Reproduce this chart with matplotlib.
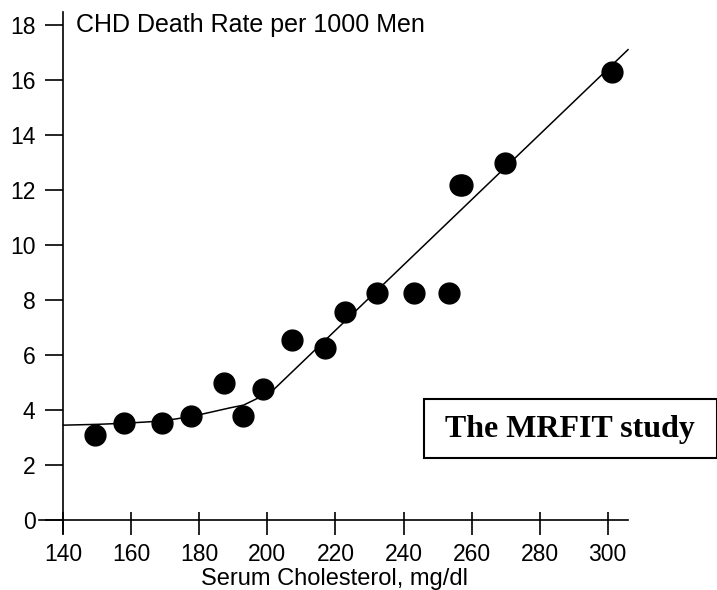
import matplotlib
matplotlib.use("Agg")
import matplotlib.pyplot as plt
from matplotlib.patches import Rectangle
import numpy as np

# serum cholesterol (mg/dl) and CHD death rate per 1000 men
chol = [149.3, 157.9, 169.1, 177.5, 187.2, 192.9, 198.6, 207.2, 217.0,
        222.9, 232.3, 243.0, 253.4, 256.6, 257.3, 269.7, 301.4]
rate = [3.1, 3.54, 3.54, 3.78, 4.99, 3.78, 4.75, 6.55, 6.25,
        7.55, 8.27, 8.27, 8.27, 12.18, 12.18, 12.99, 16.3]

# fitted curve, vertices
fit_x = [140, 150, 158, 165, 170, 177.5, 184, 189, 193, 197, 200.8, 306]
fit_y = [3.45, 3.48, 3.52, 3.57, 3.62, 3.76, 3.94, 4.08, 4.18, 4.42, 4.62, 17.1]

xticks = [140, 160, 180, 200, 220, 240, 260, 280, 300]
yticks = [0, 2, 4, 6, 8, 10, 12, 14, 16, 18]

plt.rcParams['font.family'] = ['Liberation Sans', 'DejaVu Sans']

fig = plt.figure(figsize=(7.17, 5.90), dpi=100)
ax = fig.add_axes([0.0544, 0.0966, 0.8215, 0.8831])

ax.plot(fit_x, fit_y, color='black', lw=1.1, clip_on=False)
ax.plot(chol, rate, 'o', color='black', markersize=15, clip_on=False)

ax.set_xlim(132.85, 306.0)
ax.set_ylim(-0.47, 18.47)

# axes cross at (140, 0)
ax.spines['left'].set_position(('data', 140))
ax.spines['bottom'].set_position(('data', 0))
ax.spines['top'].set_visible(False)
ax.spines['right'].set_visible(False)
for s in ('left', 'bottom'):
    ax.spines[s].set_linewidth(1.2)

ax.set_xticks(xticks)
ax.set_yticks(yticks)
# x ticks poke a little above the axis too: put minor ticks on the same spots
ax.xaxis.remove_overlapping_locs = False
ax.set_xticks(xticks, minor=True)
ax.tick_params(axis='x', which='major', direction='out', length=10.8, width=1.2,
               pad=5.5, labelsize=16.5)
ax.tick_params(axis='x', which='minor', direction='in', length=5.5, width=1.2)
ax.tick_params(axis='y', which='major', direction='out', length=13, width=1.2,
               pad=7, labelsize=16.5)

ax.text(143.8, 18, 'CHD Death Rate per 1000 Men', fontsize=18, va='center', ha='left')
ax.text(0.5025, -0.088, 'Serum Cholesterol, mg/dl', fontsize=17, ha='center',
        va='center', transform=ax.transAxes)

# study label box
fig.patches.append(Rectangle((0.5914, 0.2237), 0.4086, 0.1, transform=fig.transFigure,
                             fill=False, edgecolor='black', lw=1.5))
fig.text(570 / 717, 1 - 429 / 590, 'The MRFIT study', ha='center', va='center',
         fontsize=23, fontweight='bold', family=['Liberation Serif', 'DejaVu Serif'])

fig.savefig('out.png', dpi=100)
